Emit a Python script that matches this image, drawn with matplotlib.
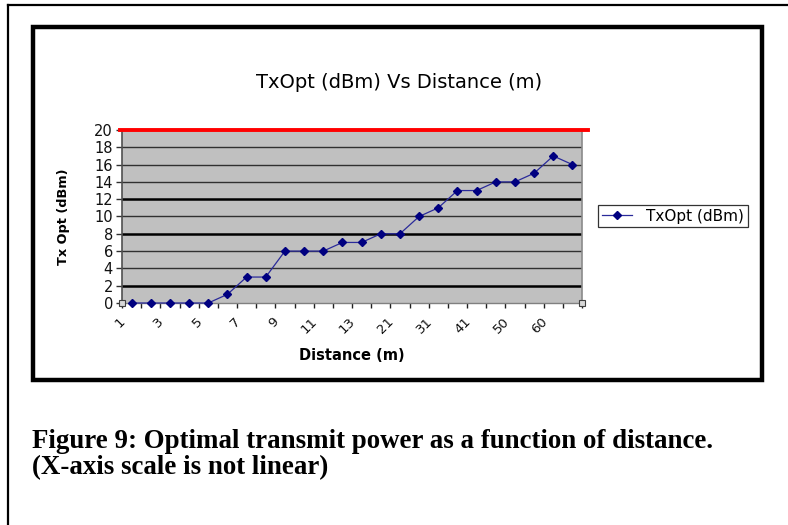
import matplotlib
matplotlib.use("Agg")
import matplotlib.pyplot as plt
import matplotlib.transforms as mtransforms
from matplotlib.patches import Rectangle
from matplotlib.lines import Line2D

# ---- data ----
distances = ["1", "2", "3", "4", "5", "6", "7", "8", "9", "10", "11", "12",
             "13", "15", "21", "25", "31", "35", "41", "45", "50", "55", "60", "65"]
tx_opt = [0, 0, 0, 0, 0, 1, 3, 3, 6, 6, 6, 7, 7, 8, 8, 10, 11, 13, 13, 14, 14, 15, 17, 16]
y_ticks = [0, 2, 4, 6, 8, 10, 12, 14, 16, 18, 20]
max_level = 20

title = "TxOpt (dBm) Vs Distance (m)"
x_title = "Distance (m)"
y_title = "Tx Opt (dBm)"
series_name = "TxOpt (dBm)"
caption_lines = ["Figure 9: Optimal transmit power as a function of distance.",
                 "(X-axis scale is not linear)"]

W, H = 788, 525
fig = plt.figure(figsize=(W / 100, H / 100), dpi=100)
fig.patch.set_facecolor("white")

def fx(px):
    return px / W

def fy(py):
    return 1 - py / H

# outer frame (left + top visible)
fig.add_artist(Line2D([fx(7.5), fx(7.5)], [fy(5), fy(525)], color="black", lw=1.6))
fig.add_artist(Line2D([fx(7.5), fx(788)], [fy(5), fy(5)], color="black", lw=1.6))

# chart area box
fig.add_artist(Rectangle((fx(33), fy(380)), fx(762) - fx(33), fy(27) - fy(380),
                         transform=fig.transFigure, fill=True, facecolor="white",
                         edgecolor="black", lw=3.2, zorder=0))

ax = fig.add_axes([fx(122), fy(303), fx(582) - fx(122), fy(130) - fy(303)])
ax.set_facecolor("#C0C0C0")

x = list(range(len(distances)))
ax.set_xlim(-0.5, len(distances) - 0.5)
ax.set_ylim(0, 20)

# grid lines
thick = {2, 8, 12}
for v in y_ticks:
    if v == 0 or v == max_level:
        continue
    if v in thick:
        ax.axhline(v, color="black", lw=1.8, zorder=1)
    else:
        ax.axhline(v, color="#303030", lw=1.0, zorder=1)

# red line at the top
ax.axhline(max_level, xmin=-0.005, xmax=1.012, color="#ff0000", lw=2.8, zorder=4,
           clip_on=False)

ax.plot(x, tx_opt, color="#2a2a9a", lw=0.9, marker="D", markersize=4.4,
        markerfacecolor="#000080", markeredgecolor="#000080", label=series_name,
        zorder=5, clip_on=False)

# corner handles
ax.plot([0, 1], [0, 0], transform=ax.transAxes, ls="none", marker="s", ms=4.5,
        mfc="#d8d8d8", mec="#404040", mew=0.8, clip_on=False, zorder=6)

ax.spines["top"].set_visible(False)
ax.spines["left"].set_color("#505050")
ax.spines["left"].set_linewidth(1.2)
ax.spines["right"].set_color("#8a8a8a")
ax.spines["right"].set_linewidth(1.2)
ax.spines["bottom"].set_color("#808080")
ax.spines["bottom"].set_linewidth(1.0)

fontname = "DejaVu Sans"

ax.set_yticks(y_ticks)
ax.set_yticklabels([str(v) for v in y_ticks], fontname=fontname, fontsize=10.5, color="#111111")
ax.tick_params(axis="y", length=4.5, width=1.0, color="#303030", pad=2)

ax.set_xticks(x[::2])
ax.set_xticklabels(distances[::2], fontname=fontname, fontsize=9.5, rotation=45,
                   ha="right", va="center", rotation_mode="anchor", color="#111111")
ax.set_xticks([i - 0.5 for i in range(len(distances) + 1)], minor=True)
ax.tick_params(axis="x", which="major", length=0, pad=12)
ax.tick_params(axis="x", which="minor", length=3.5, width=1.0, color="#202020")
offset = mtransforms.ScaledTranslation(-8 / 100, 0, fig.dpi_scale_trans)
for lab in ax.get_xticklabels():
    lab.set_transform(lab.get_transform() + offset)

ax.set_ylabel(y_title, fontname=fontname, fontsize=9.3, fontweight="bold")
ax.yaxis.set_label_coords((70 - 122) / 460, 0.5)
ax.set_xlabel(x_title, fontname=fontname, fontsize=10.5, fontweight="bold")
ax.xaxis.set_label_coords(0.5, (303 - 355) / 173)
ax.xaxis.label.set_va("center")

fig.text(fx(399), fy(83), title, fontname=fontname, fontsize=14, ha="center", va="center")

leg = ax.legend(loc="center left", bbox_to_anchor=(fx(598), fy(216)),
                bbox_transform=fig.transFigure, borderaxespad=0, frameon=True,
                fancybox=False, shadow=False, handlelength=2.0, handletextpad=0.9,
                borderpad=0.25, prop={"family": fontname, "size": 11})
leg.get_frame().set_edgecolor("black")
leg.get_frame().set_linewidth(0.9)

fig.text(fx(32), fy(448), caption_lines[0], fontname="Liberation Serif", fontsize=19.4,
         fontweight="bold", ha="left", va="baseline")
fig.text(fx(32), fy(474), caption_lines[1], fontname="Liberation Serif", fontsize=19.4,
         fontweight="bold", ha="left", va="baseline")

fig.savefig("out.png", dpi=100, facecolor="white")
